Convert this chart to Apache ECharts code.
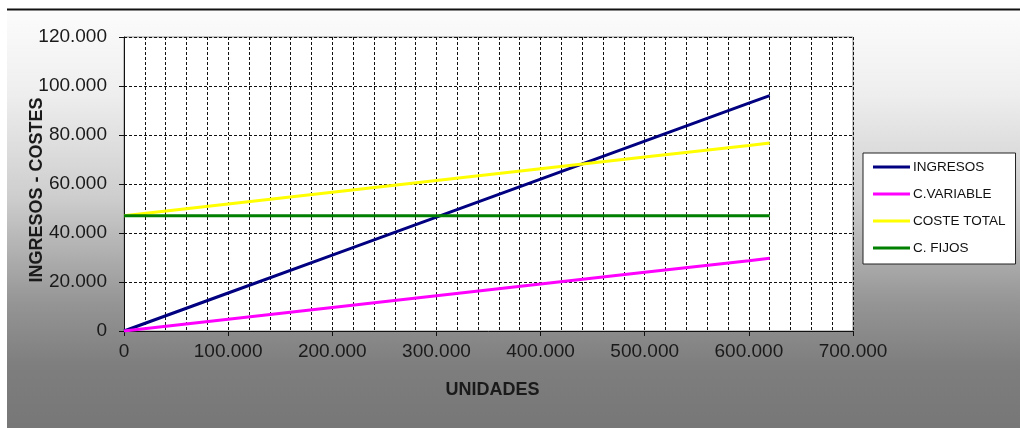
<!DOCTYPE html>
<html>
<head>
<meta charset="utf-8">
<script src="https://cdn.jsdelivr.net/npm/echarts@6/dist/echarts.min.js"></script>
<style>
  html, body { margin: 0; padding: 0; background: #ffffff; }
  #chart { width: 1020px; height: 428px; }
</style>
</head>
<body>
<div id="chart"></div>
<script>
// Units produced / sold (x) and the cost-volume-profit series (y)
var unidades    = [0, 100000, 200000, 300000, 400000, 500000, 600000, 620000];
var ingresos    = [0, 15500, 31000, 46500, 62000, 77500, 93000, 96100];
var cVariable   = [0, 4800, 9600, 14400, 19200, 24000, 28700, 29700];
var costeTotal  = [47000, 51800, 56600, 61400, 66200, 71000, 75700, 76700];
var cFijos      = [47000, 47000, 47000, 47000, 47000, 47000, 47000, 47000];

var seriesNames = ['INGRESOS', 'C.VARIABLE', 'COSTE TOTAL', 'C. FIJOS'];
var seriesData  = [ingresos, cVariable, costeTotal, cFijos];
var seriesColors = ['#000080', '#ff00ff', '#ffff00', '#008000'];

var FONT = '"Liberation Sans", Arial, sans-serif';

// Spanish thousands separator: 120000 -> "120.000"
function fmtMiles(v) {
  return String(Math.round(v)).replace(/\B(?=(\d{3})+(?!\d))/g, '.');
}

function pairs(xs, ys) {
  return xs.map(function (x, i) { return [x, ys[i]]; });
}

var chart = echarts.init(document.getElementById('chart'), null, { renderer: 'canvas' });

var option = {
  backgroundColor: '#ffffff',
  animation: false,
  graphic: [
    {
      type: 'rect',
      z: -10,
      silent: true,
      shape: { x: 7, y: 11, width: 1013, height: 417 },
      style: {
        fill: new echarts.graphic.LinearGradient(0, 0, 0, 1, [
          { offset: 0.0,  color: '#fcfcfc' },
          { offset: 0.2,  color: '#eeeeee' },
          { offset: 0.45, color: '#cdcdcd' },
          { offset: 0.7,  color: '#959595' },
          { offset: 0.85, color: '#7e7e7e' },
          { offset: 1.0,  color: '#777777' }
        ])
      }
    },
    {
      type: 'line',
      z: -9,
      silent: true,
      shape: { x1: 7, y1: 9.5, x2: 1020, y2: 9.5 },
      style: { stroke: '#111111', lineWidth: 2 }
    }
  ],
  grid: {
    left: 124,
    right: 167,
    top: 37,
    bottom: 97,
    show: true,
    backgroundColor: '#ffffff',
    borderColor: '#8c8c8c',
    borderWidth: 1
  },
  legend: {
    orient: 'vertical',
    left: 863,
    top: 153,
    padding: [6, 10, 8, 10],
    itemGap: 11,
    itemWidth: 37,
    itemHeight: 3,
    icon: 'rect',
    backgroundColor: '#ffffff',
    borderColor: '#222222',
    borderWidth: 1,
    data: seriesNames,
    textStyle: {
      fontFamily: FONT,
      fontSize: 13.5,
      color: '#111111',
      lineHeight: 16,
      padding: [0, 0, 0, -2]
    }
  },
  xAxis: {
    type: 'value',
    min: 0,
    max: 700000,
    interval: 100000,
    name: 'UNIDADES',
    nameLocation: 'middle',
    nameGap: 50,
    nameMoveOverlap: false,
    nameTextStyle: { fontFamily: FONT, fontSize: 18, fontWeight: 'bold', color: '#1a1a1a', padding: [0, 0, 0, 8] },
    axisLine: { show: true, lineStyle: { color: '#111111', width: 1 } },
    axisTick: { show: true, inside: false, length: 5, lineStyle: { color: '#111111' } },
    minorTick: { show: false, splitNumber: 5 },
    axisLabel: {
      fontFamily: FONT, fontSize: 19, color: '#1a1a1a', margin: 11,
      formatter: fmtMiles
    },
    splitLine: { show: true, lineStyle: { color: '#111111', type: [3, 2], width: 1 } },
    minorSplitLine: { show: true, lineStyle: { color: '#111111', type: [3, 2], width: 1 } }
  },
  yAxis: {
    type: 'value',
    min: 0,
    max: 120000,
    interval: 20000,
    name: 'INGRESOS - COSTES',
    nameLocation: 'middle',
    nameRotate: 90,
    nameGap: 78,
    nameMoveOverlap: false,
    nameTextStyle: { fontFamily: FONT, fontSize: 18, fontWeight: 'bold', color: '#1a1a1a', padding: [0, 12, 0, 0] },
    axisLine: { show: true, lineStyle: { color: '#111111', width: 1 } },
    axisTick: { show: true, inside: false, length: 5, lineStyle: { color: '#111111' } },
    axisLabel: {
      fontFamily: FONT, fontSize: 19, color: '#1a1a1a', margin: 17,
      formatter: fmtMiles
    },
    splitLine: { show: true, lineStyle: { color: '#111111', type: [3, 2], width: 1 } }
  },
  series: seriesNames.map(function (name, i) {
    return {
      name: name,
      type: 'line',
      data: pairs(unidades, seriesData[i]),
      showSymbol: false,
      symbol: 'none',
      color: seriesColors[i],
      lineStyle: { color: seriesColors[i], width: 3 },
      z: 3 + i
    };
  })
};

chart.setOption(option);
</script>
</body>
</html>
